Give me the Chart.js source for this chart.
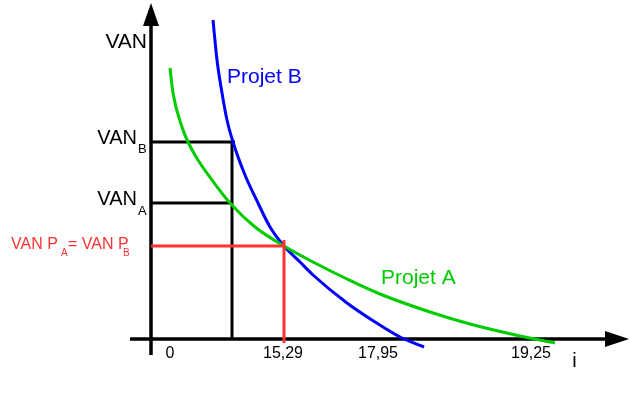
<!DOCTYPE html>
<html>
<head>
<meta charset="utf-8">
<script src="https://cdn.jsdelivr.net/npm/chart.js@4.4.1/dist/chart.umd.min.js"></script>
<style>
body{margin:0;background:#fff;}
#box{width:630px;height:396px;position:relative;}
</style>
</head>
<body>
<div id="box"><canvas id="grafica"></canvas></div>
<script>
// Courbes VAN = f(i), en unités du schéma (origine = croisement des axes)
const iProjetA   = [19, 22, 31, 37, 47, 61, 79, 104, 133, 162, 196, 229, 279, 319, 369, 404];
const vanProjetA = [271, 246, 212, 197, 179, 159, 136, 112, 93, 77, 60, 45, 27, 15, 3, -4];
const iProjetB   = [62, 66, 71, 76, 82, 94, 107, 119, 133, 149, 162, 196, 224, 249, 273];
const vanProjetB = [319, 279, 246, 219, 197, 164, 136, 112, 93, 77, 64, 36, 17, 2, -8];

// Niveaux de lecture
const iLecture = 81;
const vanB = 197;
const vanA = 136;
const iFisher = 133;
const vanFisher = 93;

// Graduations de l'axe i
const tickLabels = ['0', '15,29', '17,95', '19,25'];
const tickPos = [19, 132, 227, 380];

function points(xs, ys){
    return xs.map((x, k) => ({x: x, y: ys[k]}));
}

function segment(data, couleur, epaisseur){
    return {
        data: data,
        borderColor: couleur,
        borderWidth: epaisseur || 3,
        showLine: true,
        pointRadius: 0,
        tension: 0,
        fill: false
    };
}

// Flèches et textes
const dessin = {
    id: 'dessin',
    afterDatasetsDraw(chart){
        const ctx = chart.ctx;
        const sx = chart.scales.x, sy = chart.scales.y;
        const px = v => sx.getPixelForValue(v);
        const py = v => sy.getPixelForValue(v);
        ctx.save();

        // Flèche axe i
        ctx.fillStyle = '#000';
        ctx.beginPath();
        ctx.moveTo(px(478), py(0));
        ctx.lineTo(px(454), py(8));
        ctx.lineTo(px(454), py(-8));
        ctx.closePath();
        ctx.fill();
        // Flèche axe VAN
        ctx.beginPath();
        ctx.moveTo(px(0), py(336));
        ctx.lineTo(px(-8), py(313));
        ctx.lineTo(px(8), py(313));
        ctx.closePath();
        ctx.fill();

        const textes = [
            {t: 'VAN', x: -4, y: 291, size: 21, color: '#000', align: 'right'},
            {t: 'VAN', x: -14, y: 195, size: 20, color: '#000', align: 'right'},
            {t: 'B', x: -13, y: 186, size: 13, color: '#000', align: 'left'},
            {t: 'VAN', x: -14, y: 134, size: 20, color: '#000', align: 'right'},
            {t: 'A', x: -13, y: 124, size: 13, color: '#000', align: 'left'},
            {t: 'VAN P', x: -140, y: 90, size: 16, color: '#ff3333', align: 'left'},
            {t: 'A', x: -90, y: 83, size: 10, color: '#ff3333', align: 'left'},
            {t: '= VAN P', x: -83, y: 90, size: 16, color: '#ff3333', align: 'left'},
            {t: 'B', x: -28, y: 83, size: 10, color: '#ff3333', align: 'left'},
            {t: 'Projet B', x: 76, y: 256, size: 21, color: '#0000ff', align: 'left'},
            {t: 'Projet A', x: 230, y: 55, size: 21, color: '#00cc00', align: 'left'},
            {t: 'i', x: 423.5, y: -28, size: 20, color: '#000', align: 'center'}
        ];
        tickLabels.forEach((lab, k) => {
            textes.push({t: lab, x: tickPos[k], y: -19, size: 16, color: '#000', align: 'center'});
        });

        ctx.textBaseline = 'alphabetic';
        textes.forEach(o => {
            ctx.font = o.size + 'px "Liberation Sans", Arial, sans-serif';
            ctx.fillStyle = o.color;
            ctx.textAlign = o.align;
            ctx.fillText(o.t, px(o.x), py(o.y));
        });
        ctx.restore();
    }
};

new Chart(document.getElementById('grafica'), {
    type: 'scatter',
    data: {
        datasets: [
            // Lecture du taux d'indifférence
            segment([{x: 0, y: vanFisher}, {x: iFisher, y: vanFisher}], '#ff3333'),
            segment([{x: iFisher, y: vanFisher + 6}, {x: iFisher, y: -4}], '#ff3333'),
            // Projets
            {
                data: points(iProjetA, vanProjetA),
                borderColor: '#00cc00',
                borderWidth: 3,
                showLine: true,
                pointRadius: 0,
                cubicInterpolationMode: 'monotone',
                fill: false
            },
            {
                data: points(iProjetB, vanProjetB),
                borderColor: '#0000ff',
                borderWidth: 3,
                showLine: true,
                pointRadius: 0,
                cubicInterpolationMode: 'monotone',
                fill: false
            },
            // Lecture VAN A et VAN B
            segment([{x: 0, y: vanB}, {x: iLecture + 3, y: vanB}], '#000'),
            segment([{x: 0, y: vanA}, {x: iLecture, y: vanA}], '#000'),
            segment([{x: iLecture, y: vanB}, {x: iLecture, y: 0}], '#000'),
            // Axes
            segment([{x: -21, y: 0}, {x: 456, y: 0}], '#000', 3.5),
            segment([{x: 0, y: -16}, {x: 0, y: 315}], '#000', 3.5)
        ]
    },
    options: {
        responsive: true,
        maintainAspectRatio: false,
        animation: false,
        events: [],
        layout: {padding: 0},
        plugins: {
            legend: {display: false},
            tooltip: {enabled: false}
        },
        scales: {
            x: {type: 'linear', min: -151, max: 479, display: false},
            y: {type: 'linear', min: -57, max: 339, display: false}
        }
    },
    plugins: [dessin]
});
</script>
</body>
</html>
